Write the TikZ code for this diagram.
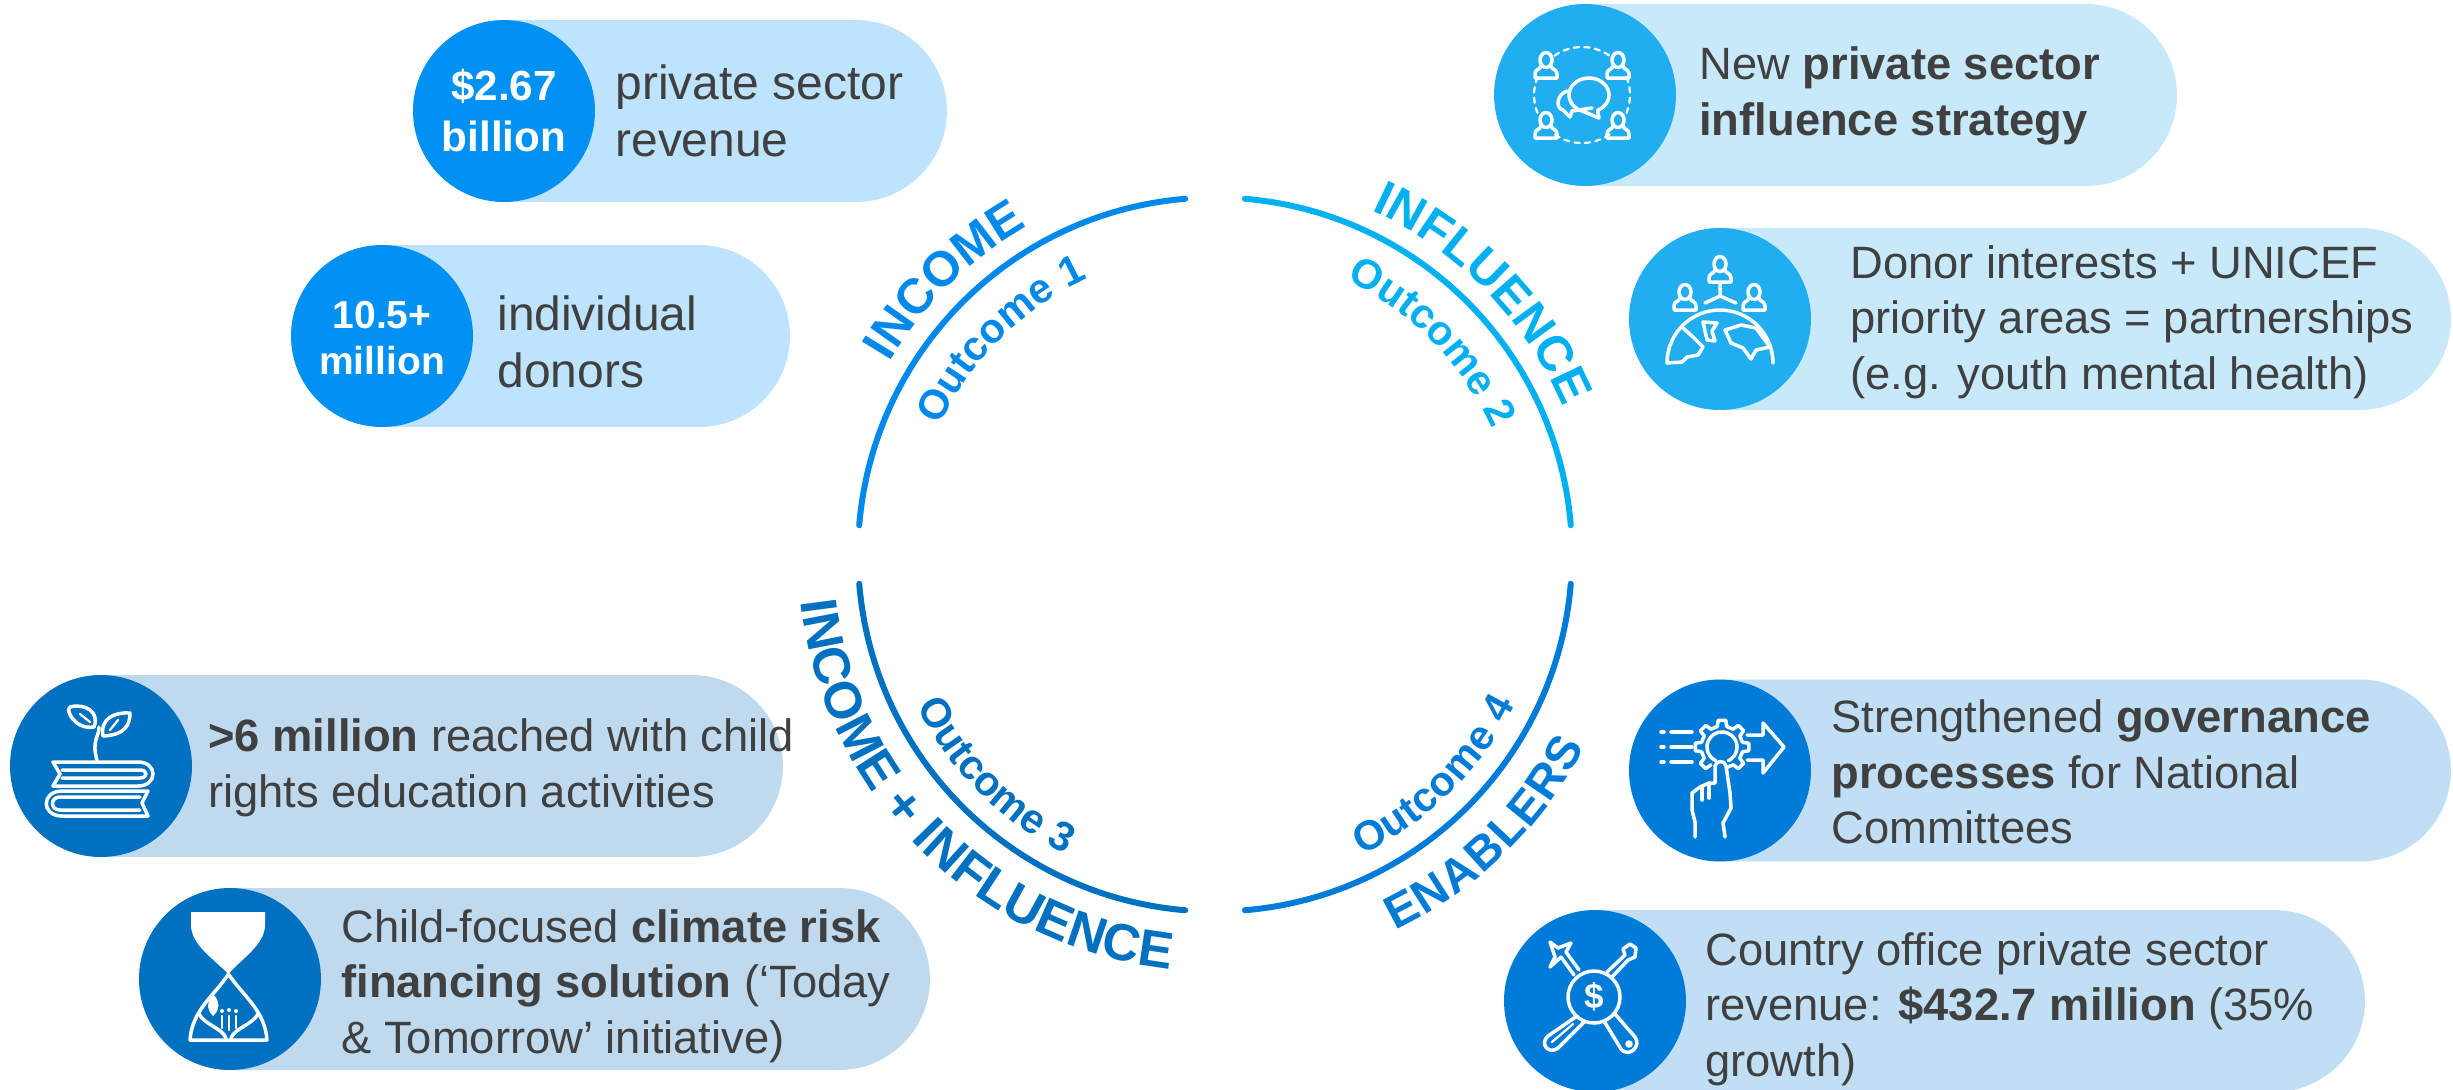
\documentclass[tikz,border=0pt]{standalone}
\usepackage{fontspec}
\setmainfont{Liberation Sans}
\usetikzlibrary{shapes.misc,decorations.text}
\definecolor{discA}{HTML}{0091F2}\definecolor{pillA}{HTML}{BEE3FD}
\definecolor{discB}{HTML}{20AEF0}\definecolor{pillB}{HTML}{C7E9FA}
\definecolor{discC}{HTML}{0070C0}\definecolor{pillC}{HTML}{BFD9EF}
\definecolor{discD}{HTML}{007CD8}\definecolor{pillD}{HTML}{C0DEF4}
\definecolor{arcA}{HTML}{0088EA}\definecolor{arcB}{HTML}{00B0F0}
\definecolor{txt}{HTML}{404040}
\tikzset{
 pill/.style={rounded rectangle,draw=none,fill=#1,minimum height=3.64cm,inner sep=0pt},
 disc/.style={circle,draw=none,fill=#1,minimum size=3.64cm,inner sep=0pt},
 lab/.style={anchor=west,inner sep=0pt,align=left,text=txt,font=\fontsize{25.8}{31.6}\selectfont},
 labbig/.style={anchor=west,inner sep=0pt,align=left,text=txt,font=\fontsize{27.3}{32.5}\selectfont},
 numA/.style={align=center,inner sep=0pt,text=white,font=\fontsize{24}{29}\selectfont\bfseries},
 numB/.style={align=center,inner sep=0pt,text=white,font=\fontsize{22.2}{26.5}\selectfont\bfseries},
 ring/.style={line width=0.12cm,line cap=round,draw=#1},
 ic/.style={draw=white,line width=0.07cm,line join=round,line cap=round},
 icthin/.style={draw=white,line width=0.045cm,line join=round,line cap=round},
}
\newcommand\bigarc{\fontsize{28}{30}\selectfont\bfseries}
\newcommand\bigarcout{\fontsize{29.5}{32}\selectfont\bfseries}
\newcommand\bigarcen{\fontsize{26.8}{32}\selectfont\bfseries}
\newcommand\smallarc{\fontsize{23.5}{26}\selectfont\bfseries}
\newcommand\pers[2]{\begin{scope}[shift={(#1,#2)}]
 \draw[ic] (0,0) ellipse[x radius=6,y radius=7.5];
 \draw[ic] (-5,6) .. controls (-6,10) and (-11,9) .. (-11,14) -- (-11,18) -- (11,18) -- (11,14) .. controls (11,9) and (6,10) .. (5,6);
\end{scope}}
\begin{document}
\begin{tikzpicture}[x=0.02cm,y=-0.02cm]
\useasboundingbox (0,0) rectangle (2453,1089);
\coordinate (cc) at (1215,554.5);
% pills
\node[pill=pillA,minimum width=10.68cm] (p1) at (680,111) {};
\node[disc=discA] (d1) at (504,111) {};
\node[pill=pillA,minimum width=9.98cm] (p2) at (540.5,336) {};
\node[disc=discA] (d2) at (382,336) {};
\node[pill=pillB,minimum width=13.64cm] (p3) at (1836,95) {};
\node[disc=discB] (d3) at (1585,95) {};
\node[pill=pillB,minimum width=16.44cm] (p4) at (2040,319) {};
\node[disc=discB] (d4) at (1720,319) {};
\node[pill=pillD,minimum width=16.44cm] (p5) at (2040,770.5) {};
\node[disc=discD] (d5) at (1720,770.5) {};
\node[pill=pillD,minimum width=17.22cm] (p6) at (1934.5,1001) {};
\node[disc=discD] (d6) at (1595,1001) {};
\node[pill=pillC,minimum width=15.46cm] (p7) at (396.5,766) {};
\node[disc=discC] (d7) at (101,766) {};
\node[pill=pillC,minimum width=15.82cm] (p8) at (534.5,979) {};
\node[disc=discC] (d8) at (230,979) {};
% labels
\node[numA] (n1) at (504,111) {\$2.67\\billion};
\node[numB] (n2) at (382,338) {10.5+\\million};
\node[labbig] (t1) at (615,111) {private sector\\revenue};
\node[labbig] (t2) at (497,342) {individual\\donors};
\node[lab] (t3) at (1699,96) {New \textbf{private sector}\\\textbf{influence strategy}};
\node[lab] (t4) at (1850,322) {Donor interests + UNICEF\\priority areas = partnerships\\(e.g. youth mental health)};
\node[lab] (t5) at (1831,772) {Strengthened \textbf{governance}\\\textbf{processes} for National\\Committees};
\node[lab] (t6) at (1705,1009) {Country office private sector\\revenue: \textbf{\$432.7 million} (35\%\\growth)};
\node[lab] (t7) at (208,768) {\textbf{>6 million} reached with child\\rights education activities};
\node[lab] (t8) at (341,986) {Child-focused \textbf{climate risk}\\\textbf{financing solution} (‘Today\\\& Tomorrow’ initiative)};
% ring
\begin{scope}[x=0.02cm,y=0.02cm]
\draw[ring=arcA] ([shift={(175.3:357)}]cc) arc[start angle=175.3,end angle=94.8,radius=357];
\draw[ring=arcB] ([shift={(85.2:357)}]cc) arc[start angle=85.2,end angle=4.7,radius=357];
\draw[ring=discC] ([shift={(184.7:357)}]cc) arc[start angle=184.7,end angle=265.2,radius=357];
\draw[ring=discD] ([shift={(274.8:357)}]cc) arc[start angle=274.8,end angle=355.3,radius=357];
\path[decorate,decoration={text along path,text align={fit to path},text={|\bigarc\color{arcA}|INCOME}}] ([shift={(149.5:378)}]cc) arc[start angle=149.5,end angle=121,radius=378];
\path[decorate,decoration={text along path,text align={fit to path},text={|\bigarc\color{arcB}|INFLUENCE}}] ([shift={(65.6:378)}]cc) arc[start angle=65.6,end angle=24,radius=378];
\path[decorate,decoration={text along path,text align={fit to path},text={|\bigarcout\color{discC}|INCOME + INFLUENCE}}] ([shift={(186.5:417)}]cc) arc[start angle=186.5,end angle=263.6,radius=417];
\path[decorate,decoration={text along path,text align={fit to path},text={|\bigarcen\color{discD}|ENABLERS}}] ([shift={(295.7:417)}]cc) arc[start angle=295.7,end angle=332.5,radius=417];
\path[decorate,decoration={text along path,text align={fit to path},text={|\smallarc\color{arcA}|Outcome 1}}] ([shift={(155:304)}]cc) arc[start angle=155,end angle=116.5,radius=304];
\path[decorate,decoration={text along path,text align={fit to path},text={|\smallarc\color{arcB}|Outcome 2}}] ([shift={(64.5:304)}]cc) arc[start angle=64.5,end angle=26,radius=304];
\path[decorate,decoration={text along path,text align={fit to path},text={|\smallarc\color{discC}|Outcome 3}}] ([shift={(207:335)}]cc) arc[start angle=207,end angle=243,radius=335];
\path[decorate,decoration={text along path,text align={fit to path},text={|\smallarc\color{discD}|Outcome 4}}] ([shift={(296:335)}]cc) arc[start angle=296,end angle=333.5,radius=335];
\end{scope}
% icon d3: people around a conversation
\pers{1546}{60}\pers{1618}{60}\pers{1546}{120}\pers{1618}{120}
\draw[icthin,dashed] plot[domain=-125:-55,samples=16] ({1582+48*cos(\x)},{95+48*sin(\x)});
\draw[icthin,dashed] plot[domain=55:125,samples=16] ({1582+48*cos(\x)},{95+48*sin(\x)});
\draw[icthin,dashed] plot[domain=-22:22,samples=8] ({1582+48*cos(\x)},{95+48*sin(\x)});
\draw[icthin,dashed] plot[domain=158:202,samples=8] ({1582+48*cos(\x)},{95+48*sin(\x)});
\draw[ic] plot[domain=115:425,samples=30] ({1589+20*cos(\x)},{95+17*sin(\x)}) -- (1599,118) -- cycle;
\draw[ic] (1567,91) .. controls (1557,94) and (1555,108) .. (1563,110) -- (1570,117) -- (1572,111) -- (1592,108);
% icon d4: people on a globe
\pers{1720}{264}\pers{1685}{292}\pers{1754}{292}
\draw[ic] (1720,283) -- (1720,296) -- (1705,303) (1720,296) -- (1736,303);
\draw[ic] plot[domain=180:360,samples=30] ({1720+53*cos(\x)},{363+53*sin(\x)});
\draw[ic] (1683,328) -- (1693,337) -- (1703,347) -- (1698,355) -- (1687,357) -- (1682,362) -- (1667,363);
\draw[ic] (1703,322) -- (1717,323) -- (1712,331) -- (1715,341) -- (1707,340) -- cycle;
\draw[ic] (1725,330) -- (1741,325) -- (1756,328) -- (1770,347) -- (1756,350) -- (1751,359) -- (1743,348) -- (1731,343) -- cycle;
% icon d5: gear, arrow, hand
\begin{scope}[shift={(1722,747)}]
\foreach \a in {135,180,225,270,315,360,405}
 \draw[ic] (\a-13:21) -- (\a-8:27) -- (\a+8:27) -- (\a+13:21) -- (\a+32:21);
\draw[ic] plot[domain=115:425,samples=30] ({15*cos(\x)},{15*sin(\x)});
\end{scope}
\draw[ic] (1747,735) -- (1763,735) -- (1763,723) -- (1784,747) -- (1763,773) -- (1763,760) -- (1747,760);
\draw[ic] (1661,732) -- (1664,732) (1671,732) -- (1692,732) (1661,747) -- (1664,747) (1671,747) -- (1692,747) (1661,762) -- (1664,762) (1671,762) -- (1692,762);
\draw[ic] (1695,837) -- (1695,822) -- (1692,810) -- (1692,793) -- (1700,787) -- (1709,783) -- (1715,783) -- (1715,766) .. controls (1716,760) and (1725,760) .. (1726,766) -- (1730,793) -- (1731,808) -- (1723,823) -- (1725,837);
\draw[ic] (1702,787) -- (1702,800) (1709,783) -- (1709,798);
% icon d6: tools and dollar
\draw[ic] (1594,997) circle[radius=26];
\node[text=white,inner sep=0pt,font=\fontsize{20}{22}\selectfont\bfseries] (dol) at (1594,997) {\$};
\draw[ic] (1577,1016) -- (1548,1036) .. controls (1539,1044) and (1549,1055) .. (1558,1048) -- (1585,1021);
\draw[icthin] (1573,1024) -- (1552,1042);
\draw[ic] (1604,1021) -- (1621,1049) .. controls (1628,1058) and (1642,1047) .. (1635,1037) -- (1615,1014);
\draw[ic] (1629,1044) circle[radius=2];
\draw[ic] (1607,972) -- (1625,955) -- (1623,949) -- (1630,944) -- (1636,948) -- (1635,957) -- (1628,960) -- (1612,977);
\draw[ic] (1579,970) -- (1566,952) (1574,975) -- (1561,957);
\draw[ic] (1566,952) -- (1571,943) -- (1558,948) -- (1550,942) -- (1555,957) -- (1550,967) -- (1561,957);
% icon d7: plant on books
\draw[ic] (97,760) .. controls (91,740) and (100,735) .. (99,727);
\draw[ic] (94,727) .. controls (75,730) and (65,710) .. (70,707) .. controls (85,703) and (100,712) .. (94,727);
\draw[ic] (103,736) .. controls (125,735) and (130,725) .. (130,713) .. controls (115,712) and (100,718) .. (103,736);
\draw[icthin] (80,714) -- (90,722) (118,720) -- (110,730);
\draw[ic] (53,762) -- (138,762) .. controls (158,762) and (158,786) .. (138,786) -- (53,786) -- (60,774) -- cycle;
\draw[ic] (62,770) -- (140,770) .. controls (148,770) and (148,778) .. (140,778) -- (62,778);
\draw[ic] (148,791) -- (62,791) .. controls (41,791) and (41,816) .. (62,816) -- (148,816) -- (142,803) -- cycle;
\draw[ic] (140,797) -- (60,797) .. controls (50,797) and (50,810) .. (60,810) -- (140,810);
% icon d8: hourglass
\fill[white] (191,912) -- (265,912) -- (265,925) .. controls (265,945) and (240,960) .. (228.5,974) .. controls (215,960) and (191,945) .. (191,925) -- cycle;
\draw[ic] (228.5,974) .. controls (215,995) and (192,1010) .. (190,1040) -- (267,1040) .. controls (265,1010) and (242,995) .. (228.5,974);
\draw[ic] (199,1014) .. controls (205,1025) and (222,1028) .. (226,1038) (258,1014) .. controls (252,1025) and (235,1028) .. (231,1038);
\draw[icthin] (222,1016) -- (222,1028) (229,1016) -- (229,1030) (236,1016) -- (236,1028);
\fill[white] (222,1011) circle[radius=2] (229,1010) circle[radius=2] (236,1011) circle[radius=2];
\fill[white] (213,1016) .. controls (205,1008) and (208,1000) .. (214,995) .. controls (220,1002) and (220,1010) .. (213,1016);
\end{tikzpicture}
\end{document}
